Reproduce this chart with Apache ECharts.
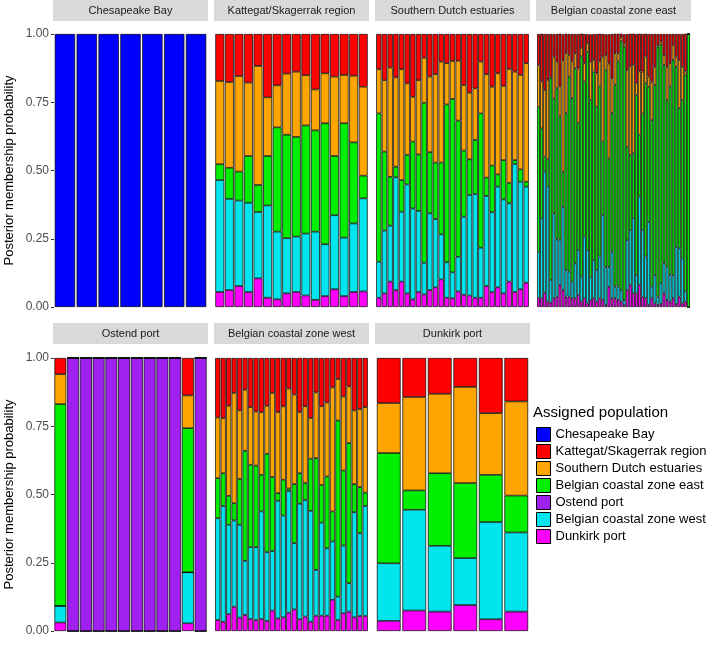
<!DOCTYPE html>
<html><head><meta charset="utf-8">
<script src="https://cdn.jsdelivr.net/npm/echarts@6/dist/echarts.min.js"></script>
<style>html,body{margin:0;padding:0;background:#fff}#c{width:709px;height:645px}</style>
</head><body><div id="c"></div>
<script>
const populations = ['Chesapeake Bay','Kattegat/Skagerrak region','Southern Dutch estuaries','Belgian coastal zone east','Ostend port','Belgian coastal zone west','Dunkirk port'];
const popColors = ['#0000FF','#FF0000','#FFA500','#00EE00','#A020F0','#00E5EE','#FF00FF'];
const yTicks = [0, 0.25, 0.5, 0.75, 1];

// Chesapeake Bay panel
const ches_chesapeake = [1,1,1,1,1,1,1];

// Kattegat/Skagerrak region panel
const katt_dunkirk = [.055,.062,.077,.055,.105,.034,.028,.050,.055,.042,.026,.040,.065,.040,.055,.057];
const katt_bczWest = [.410,.334,.313,.327,.243,.338,.248,.202,.203,.227,.250,.190,.271,.214,.251,.341];
const katt_bczEast = [.058,.114,.106,.171,.099,.181,.382,.379,.365,.396,.371,.443,.217,.419,.297,.083];
const katt_sde     = [.305,.314,.350,.269,.436,.215,.154,.224,.239,.184,.150,.183,.291,.177,.244,.326];
const katt_ks      = [.172,.176,.154,.178,.117,.232,.188,.145,.138,.151,.203,.144,.156,.150,.153,.193];

// Southern Dutch estuaries panel
const sde_dunkirk = [.034,.050,.093,.062,.093,.050,.028,.055,.046,.062,.072,.101,.034,.032,.057,.045,.042,.034,.034,.077,.055,.072,.050,.093,.055,.065,.089];
const sde_bczWest = [.132,.230,.205,.413,.256,.399,.333,.297,.116,.281,.250,.165,.130,.095,.127,.286,.368,.380,.183,.330,.292,.369,.344,.287,.469,.394,.352];
const sde_bczEast = [.543,.289,.179,.039,.116,.108,.245,.207,.586,.224,.207,.263,.578,.635,.499,.242,.131,.198,.492,.067,.171,.045,.144,.075,.014,.045,.018];
const sde_sde     = [.162,.262,.400,.327,.406,.262,.164,.272,.165,.277,.324,.370,.151,.139,.219,.240,.244,.189,.190,.379,.289,.370,.272,.417,.324,.346,.434];
const sde_ks      = [.129,.169,.123,.159,.129,.181,.230,.169,.087,.156,.147,.101,.107,.099,.098,.187,.215,.199,.101,.147,.193,.144,.190,.128,.138,.150,.107];

// Belgian coastal zone east panel
const bcze_dunkirk = [.034,.032,.053,.020,.016,.032,.038,.081,.062,.038,.038,.032,.032,.044,.020,.032,.013,.026,.032,.020,.032,.026,.007,.074,.032,.032,.026,.020,.007,.062,.081,.050,.050,.081,.038,.032,.007,.032,.013,.007,.011,.050,.026,.020,.032,.011,.038,.013,.020,0];
const bcze_bczWest = [.168,.293,.443,.421,.083,.311,.210,.165,.305,.098,.092,.061,.128,.165,.092,.226,.195,.085,.140,.116,.153,.311,.140,.073,.171,.043,.049,.043,.018,.183,.201,.275,.067,.324,.244,.153,.305,.043,.104,.031,.076,.110,.122,.098,.085,.210,.177,.165,.037,0];
const bcze_bczEast = [.531,.330,.055,.100,.739,.421,.553,.452,.128,.574,.714,.672,.714,.464,.806,.568,.726,.647,.690,.598,.623,.269,.720,.397,.507,.739,.824,.910,.928,.342,.275,.238,.659,.226,.427,.635,.495,.610,.696,.916,.873,.726,.610,.690,.788,.659,.513,.580,.794,1];
const bcze_sde     = [.153,.171,.244,.291,.006,.153,.098,.110,.409,.220,.079,.134,.055,.201,.031,.067,.031,.140,.043,.122,.092,.311,.055,.348,.128,.116,.031,.015,.012,.281,.324,.324,.043,.232,.153,.098,.037,.140,.067,.006,.012,.037,.122,.085,.055,.037,.177,.122,.012,0];
const bcze_ks      = [.114,.175,.205,.168,.156,.083,.101,.193,.095,.071,.077,.101,.071,.126,.053,.107,.034,.101,.095,.144,.101,.083,.077,.107,.162,.071,.071,.013,.034,.132,.120,.114,.181,.138,.138,.083,.156,.175,.120,.040,.028,.077,.120,.107,.040,.083,.095,.120,.138,0];

// Ostend port panel
const ost_dunkirk = [.031,0,0,0,0,0,0,0,0,0,.028,0];
const ost_bczWest = [.061,0,0,0,0,0,0,0,0,0,.187,0];
const ost_ostend  = [0,1,1,1,1,1,1,1,1,1,0,1];
const ost_bczEast = [.739,0,0,0,0,0,0,0,0,0,.528,0];
const ost_sde     = [.110,0,0,0,0,0,0,0,0,0,.120,0];
const ost_ks      = [.059,0,0,0,0,0,0,0,0,0,.137,0];

// Belgian coastal zone west panel
const bczw_dunkirk = [.040,.034,.062,.089,.049,.059,.044,.040,.044,.037,.075,.046,.050,.067,.079,.043,.053,.034,.056,.056,.056,.114,.040,.065,.071,.050,.055,.055];
const bczw_bczWest = [.373,.424,.327,.316,.340,.198,.263,.267,.394,.252,.218,.431,.373,.446,.243,.423,.427,.406,.168,.341,.247,.214,.086,.248,.104,.385,.303,.403];
const bczw_bczEast = [.147,.120,.106,.063,.168,.403,.302,.299,.134,.360,.271,.028,.131,.009,.216,.112,.062,.191,.409,.138,.263,.110,.645,.275,.513,.103,.169,.049];
const bczw_sde     = [.222,.202,.330,.404,.251,.224,.211,.198,.229,.176,.308,.297,.269,.366,.328,.224,.281,.149,.241,.288,.271,.454,.152,.271,.208,.270,.286,.313];
const bczw_ks      = [.218,.220,.175,.128,.192,.116,.180,.196,.199,.175,.128,.198,.177,.112,.134,.198,.177,.220,.126,.177,.163,.108,.077,.141,.104,.192,.187,.180];

// Dunkirk port panel
const dunk_dunkirk = [.037,.075,.071,.095,.043,.071];
const dunk_bczWest = [.211,.369,.241,.172,.356,.290];
const dunk_bczEast = [.404,.071,.266,.275,.173,.135];
const dunk_sde     = [.183,.342,.291,.352,.226,.345];
const dunk_ks      = [.165,.143,.131,.106,.202,.159];

// panel definitions: stacking from bottom (Dunkirk) to top (Chesapeake)
const panels = [
  {title:'Chesapeake Bay', row:0, col:0, data:{'Chesapeake Bay':ches_chesapeake}},
  {title:'Kattegat/Skagerrak region', row:0, col:1, data:{'Dunkirk port':katt_dunkirk,'Belgian coastal zone west':katt_bczWest,'Belgian coastal zone east':katt_bczEast,'Southern Dutch estuaries':katt_sde,'Kattegat/Skagerrak region':katt_ks}},
  {title:'Southern Dutch estuaries', row:0, col:2, data:{'Dunkirk port':sde_dunkirk,'Belgian coastal zone west':sde_bczWest,'Belgian coastal zone east':sde_bczEast,'Southern Dutch estuaries':sde_sde,'Kattegat/Skagerrak region':sde_ks}},
  {title:'Belgian coastal zone east', row:0, col:3, data:{'Dunkirk port':bcze_dunkirk,'Belgian coastal zone west':bcze_bczWest,'Belgian coastal zone east':bcze_bczEast,'Southern Dutch estuaries':bcze_sde,'Kattegat/Skagerrak region':bcze_ks}},
  {title:'Ostend port', row:1, col:0, data:{'Dunkirk port':ost_dunkirk,'Belgian coastal zone west':ost_bczWest,'Ostend port':ost_ostend,'Belgian coastal zone east':ost_bczEast,'Southern Dutch estuaries':ost_sde,'Kattegat/Skagerrak region':ost_ks}},
  {title:'Belgian coastal zone west', row:1, col:1, data:{'Dunkirk port':bczw_dunkirk,'Belgian coastal zone west':bczw_bczWest,'Belgian coastal zone east':bczw_bczEast,'Southern Dutch estuaries':bczw_sde,'Kattegat/Skagerrak region':bczw_ks}},
  {title:'Dunkirk port', row:1, col:2, data:{'Dunkirk port':dunk_dunkirk,'Belgian coastal zone west':dunk_bczWest,'Belgian coastal zone east':dunk_bczEast,'Southern Dutch estuaries':dunk_sde,'Kattegat/Skagerrak region':dunk_ks}}
];

// layout
const colLeft = [54, 215, 376, 537];
const panelW = 153;
const rowTop = [34, 358];
const panelH = 273;
const stripTop = [0, 323];
const stripH = 21;
const FONT = "'Liberation Sans', Arial, Helvetica, sans-serif";

const stackOrder = populations.slice().reverse();
const grid = [], xAxis = [], yAxis = [], series = [], graphic = [];

panels.forEach((p, i) => {
  const n = Object.values(p.data)[0].length;
  grid.push({left: colLeft[p.col], top: rowTop[p.row], width: panelW, height: panelH});
  xAxis.push({type:'category', gridIndex:i, data: Array.from({length:n}, (_, k) => String(k+1)),
    axisLine:{show:false}, axisTick:{show:false}, axisLabel:{show:false}, splitLine:{show:false}});
  const leftCol = p.col === 0;
  yAxis.push({type:'value', gridIndex:i, min:0, max:1, interval:0.25,
    axisLine:{show:false}, splitLine:{show:false},
    axisTick:{show:leftCol, length:3, lineStyle:{color:'#333', width:1}},
    axisLabel:{show:leftCol, margin:5, color:'#4D4D4D', fontSize:12, fontFamily:FONT, formatter: v => v.toFixed(2)},
    name: leftCol ? 'Posterior membership probability' : '', nameLocation:'middle', nameGap:38,
    nameTextStyle:{fontSize:13, color:'#000', fontFamily:FONT}});
  stackOrder.forEach(pop => {
    if (!p.data[pop]) return;
    series.push({type:'bar', name:pop, xAxisIndex:i, yAxisIndex:i, stack:'s'+i,
      data:p.data[pop], barCategoryGap:'7%',
      itemStyle:{color:popColors[populations.indexOf(pop)], borderColor:'#000', borderWidth:0.7},
      emphasis:{disabled:true}});
  });
  graphic.push({type:'rect', shape:{x:colLeft[p.col]-1, y:stripTop[p.row], width:panelW+2, height:stripH},
    style:{fill:'#D9D9D9'}, silent:true});
  graphic.push({type:'text', x:colLeft[p.col]-1+(panelW+2)/2, y:stripTop[p.row]+stripH/2,
    style:{text:p.title, fill:'#1A1A1A', font:'11px ' + FONT, textAlign:'center', textVerticalAlign:'middle'}, silent:true});
});

const chart = echarts.init(document.getElementById('c'), null, {renderer:'canvas'});
chart.setOption({
  animation:false,
  backgroundColor:'#fff',
  title:{text:'Assigned population', left:533, top:405, textStyle:{fontSize:15, fontWeight:'normal', color:'#000', fontFamily:FONT}, padding:0},
  legend:{data:populations, orient:'vertical', left:536, top:427, itemWidth:14, itemHeight:14, itemGap:2,
    icon:'rect', selectedMode:false, padding:0,
    itemStyle:{borderColor:'#000', borderWidth:1},
    textStyle:{fontSize:13, color:'#000', fontFamily:FONT}},
  grid, xAxis, yAxis, series, graphic
});
</script></body></html>
